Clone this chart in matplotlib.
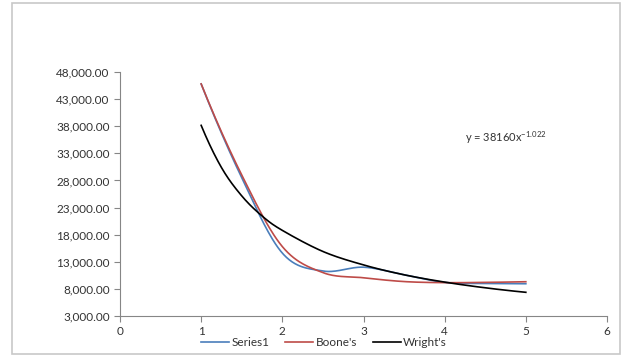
import numpy as np
import matplotlib
matplotlib.use("Agg")
import matplotlib.pyplot as plt
from matplotlib.patches import Rectangle

plt.rcParams['font.family'] = ['Lato', 'DejaVu Sans']
plt.rcParams['mathtext.default'] = 'regular'

# data
x = [1, 1.5, 2, 2.5, 3, 3.5, 4, 4.5, 5]
series1 = [45800, 28500, 14600, 11300, 12000, 10600, 9200, 9000, 8950]
boones = [45800, 29000, 15800, 11000, 10050, 9350, 9150, 9200, 9320]
x_wright = [1, 1.25, 1.5, 1.75, 2, 2.5, 3, 3.5, 4, 4.5, 5]
wrights = [38160, 30380, 25150, 21450, 18790, 14900, 12420, 10600, 9250, 8200, 7370]
yticks = [3000, 8000, 13000, 18000, 23000, 28000, 33000, 38000, 43000, 48000]
xticks = [0, 1, 2, 3, 4, 5, 6]


def smooth(xs, ys, n=30):
    # smoothed line through the points, like excel's "smoothed line"
    xs = np.asarray(xs, float)
    ys = np.asarray(ys, float)
    # phantom end points so the ends bend naturally
    xs = np.r_[3 * xs[0] - 3 * xs[1] + xs[2], xs, 3 * xs[-1] - 3 * xs[-2] + xs[-3]]
    ys = np.r_[3 * ys[0] - 3 * ys[1] + ys[2], ys, 3 * ys[-1] - 3 * ys[-2] + ys[-3]]
    px, py = [], []
    t = np.linspace(0, 1, n)
    a, b, c, d = (1 - t) ** 3, 3 * (1 - t) ** 2 * t, 3 * (1 - t) * t ** 2, t ** 3
    for i in range(1, len(xs) - 2):
        c1x = xs[i] + (xs[i + 1] - xs[i - 1]) / 6
        c1y = ys[i] + (ys[i + 1] - ys[i - 1]) / 6
        c2x = xs[i + 1] - (xs[i + 2] - xs[i]) / 6
        c2y = ys[i + 1] - (ys[i + 2] - ys[i]) / 6
        px.extend(a * xs[i] + b * c1x + c * c2x + d * xs[i + 1])
        py.extend(a * ys[i] + b * c1y + c * c2y + d * ys[i + 1])
    return px, py


fig = plt.figure(figsize=(6.26, 3.58), dpi=100)
fig.patches.append(Rectangle((11.5 / 626, 4 / 358), 608.5 / 626, 351.5 / 358,
                             transform=fig.transFigure, fill=False,
                             edgecolor='#c8c8c8', linewidth=1.2))

ax = fig.add_axes([120 / 626, 42 / 358, 487 / 626, 244 / 358])
ax.plot(*smooth(x, series1), color='#4a7ebb', lw=1.2, label='Series1')
ax.plot(*smooth(x, boones), color='#be4b48', lw=1.2, label="Boone's")
ax.plot(*smooth(x_wright, wrights), color='black', lw=1.2, label="Wright's")

ax.set_xlim(0, 6)
ax.set_ylim(3000, 48000)
ax.set_xticks(xticks)
ax.set_yticks(yticks)
ax.set_yticklabels([f'{v:,.2f}' for v in yticks])
for s in ['top', 'right']:
    ax.spines[s].set_visible(False)
for s in ['left', 'bottom']:
    ax.spines[s].set_color('#868686')
ax.tick_params(colors='#868686', labelcolor='#333333', labelsize=8.5, length=4, direction='out')

fig.text(465 / 626, (358 - 138) / 358, 'y = 38160x$^{-1.022}$', fontsize=8,
         color='#333333', va='center')

ax.legend(loc='center', bbox_to_anchor=(324 / 626, (358 - 343) / 358), bbox_transform=fig.transFigure,
          ncol=3, frameon=False, fontsize=8.5, handlelength=2.4, columnspacing=1.3,
          handletextpad=0.2, labelcolor='#333333', borderpad=0)

fig.savefig('out.png', dpi=100)
